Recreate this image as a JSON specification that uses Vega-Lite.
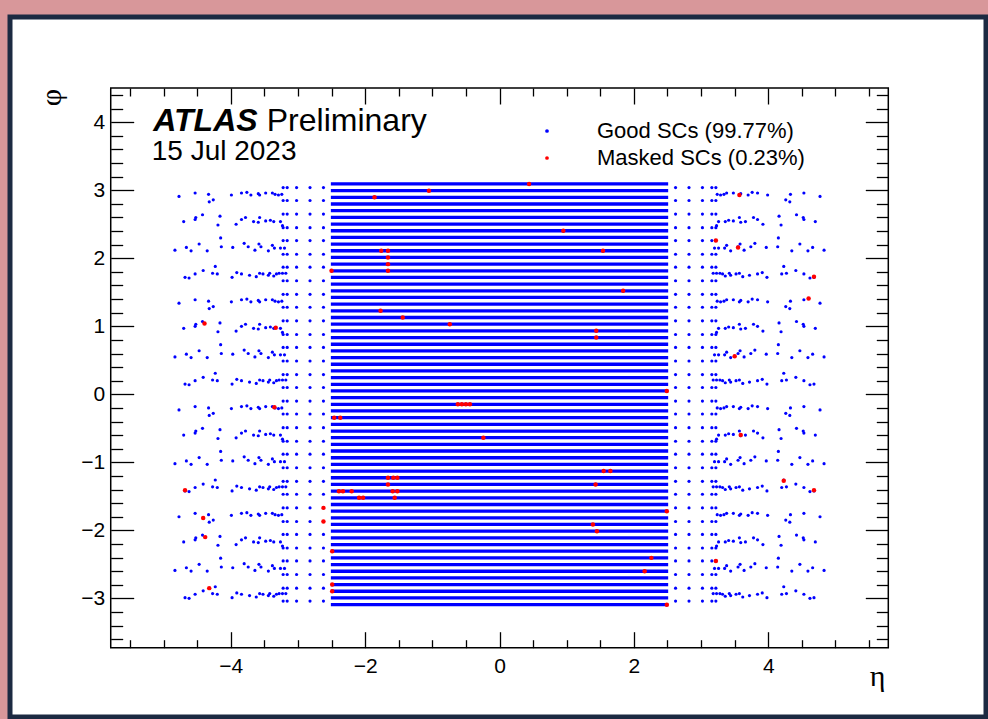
{
"$schema": "https://vega.github.io/schema/vega-lite/v6.json",
"width": 976, "height": 700,
"autosize": {"type": "none"},
"padding": {"left": 10, "top": 17, "right": 2, "bottom": 2},
"background": "#d8979a",
"config": {"view": {"fill": "white", "stroke": "#1c2a42", "strokeWidth": 5}, "font": "Liberation Sans"},
"datasets": {
"stripes": [{"phi":3.093},{"phi":2.994},{"phi":2.896},{"phi":2.798},{"phi":2.700},{"phi":2.602},{"phi":2.503},{"phi":2.405},{"phi":2.307},{"phi":2.209},{"phi":2.111},{"phi":2.013},{"phi":1.914},{"phi":1.816},{"phi":1.718},{"phi":1.620},{"phi":1.522},{"phi":1.424},{"phi":1.325},{"phi":1.227},{"phi":1.129},{"phi":1.031},{"phi":0.933},{"phi":0.834},{"phi":0.736},{"phi":0.638},{"phi":0.540},{"phi":0.442},{"phi":0.344},{"phi":0.245},{"phi":0.147},{"phi":0.049},
{"phi":-0.049},{"phi":-0.147},{"phi":-0.245},{"phi":-0.344},{"phi":-0.442},{"phi":-0.540},{"phi":-0.638},{"phi":-0.736},{"phi":-0.834},{"phi":-0.933},{"phi":-1.031},{"phi":-1.129},{"phi":-1.227},{"phi":-1.325},{"phi":-1.424},{"phi":-1.522},{"phi":-1.620},{"phi":-1.718},{"phi":-1.816},{"phi":-1.914},{"phi":-2.013},{"phi":-2.111},{"phi":-2.209},{"phi":-2.307},{"phi":-2.405},{"phi":-2.503},{"phi":-2.602},{"phi":-2.700},{"phi":-2.798},{"phi":-2.896},{"phi":-2.994},{"phi":-3.093}],
"good": [
{"eta":-3.22,"phi":3.04},{"eta":-3.16,"phi":3.04},{"eta":-3.02,"phi":3.04},{"eta":-2.82,"phi":3.04},{"eta":-2.62,"phi":3.04},{"eta":2.62,"phi":3.04},{"eta":2.82,"phi":3.04},{"eta":3.02,"phi":3.04},{"eta":3.16,"phi":3.04},{"eta":3.22,"phi":3.04},
{"eta":-3.22,"phi":2.85},{"eta":-3.16,"phi":2.85},{"eta":-3.02,"phi":2.85},{"eta":-2.82,"phi":2.85},{"eta":-2.62,"phi":2.85},{"eta":2.62,"phi":2.85},{"eta":2.82,"phi":2.85},{"eta":3.02,"phi":2.85},{"eta":3.16,"phi":2.85},{"eta":3.22,"phi":2.85},
{"eta":-3.22,"phi":2.65},{"eta":-3.16,"phi":2.65},{"eta":-3.02,"phi":2.65},{"eta":-2.82,"phi":2.65},{"eta":-2.62,"phi":2.65},{"eta":2.62,"phi":2.65},{"eta":2.82,"phi":2.65},{"eta":3.02,"phi":2.65},{"eta":3.16,"phi":2.65},{"eta":3.22,"phi":2.65},
{"eta":-3.22,"phi":2.45},{"eta":-3.16,"phi":2.45},{"eta":-3.02,"phi":2.45},{"eta":-2.82,"phi":2.45},{"eta":-2.62,"phi":2.45},{"eta":2.62,"phi":2.45},{"eta":2.82,"phi":2.45},{"eta":3.02,"phi":2.45},{"eta":3.16,"phi":2.45},{"eta":3.22,"phi":2.45},
{"eta":-3.22,"phi":2.26},{"eta":-3.16,"phi":2.26},{"eta":-3.02,"phi":2.26},{"eta":-2.82,"phi":2.26},{"eta":-2.62,"phi":2.26},{"eta":2.62,"phi":2.26},{"eta":2.82,"phi":2.26},{"eta":3.02,"phi":2.26},{"eta":3.16,"phi":2.26},{"eta":3.22,"phi":2.26},
{"eta":-3.22,"phi":2.06},{"eta":-3.16,"phi":2.06},{"eta":-3.02,"phi":2.06},{"eta":-2.82,"phi":2.06},{"eta":-2.62,"phi":2.06},{"eta":2.62,"phi":2.06},{"eta":2.82,"phi":2.06},{"eta":3.02,"phi":2.06},{"eta":3.16,"phi":2.06},{"eta":3.22,"phi":2.06},
{"eta":-3.22,"phi":1.87},{"eta":-3.16,"phi":1.87},{"eta":-3.02,"phi":1.87},{"eta":-2.82,"phi":1.87},{"eta":-2.62,"phi":1.87},{"eta":2.62,"phi":1.87},{"eta":2.82,"phi":1.87},{"eta":3.02,"phi":1.87},{"eta":3.16,"phi":1.87},{"eta":3.22,"phi":1.87},
{"eta":-3.22,"phi":1.67},{"eta":-3.16,"phi":1.67},{"eta":-3.02,"phi":1.67},{"eta":-2.82,"phi":1.67},{"eta":-2.62,"phi":1.67},{"eta":2.62,"phi":1.67},{"eta":2.82,"phi":1.67},{"eta":3.02,"phi":1.67},{"eta":3.16,"phi":1.67},{"eta":3.22,"phi":1.67},
{"eta":-3.22,"phi":1.47},{"eta":-3.16,"phi":1.47},{"eta":-3.02,"phi":1.47},{"eta":-2.82,"phi":1.47},{"eta":-2.62,"phi":1.47},{"eta":2.62,"phi":1.47},{"eta":2.82,"phi":1.47},{"eta":3.02,"phi":1.47},{"eta":3.16,"phi":1.47},{"eta":3.22,"phi":1.47},
{"eta":-3.22,"phi":1.28},{"eta":-3.16,"phi":1.28},{"eta":-3.02,"phi":1.28},{"eta":-2.82,"phi":1.28},{"eta":-2.62,"phi":1.28},{"eta":2.62,"phi":1.28},{"eta":2.82,"phi":1.28},{"eta":3.02,"phi":1.28},{"eta":3.16,"phi":1.28},{"eta":3.22,"phi":1.28},
{"eta":-3.22,"phi":1.08},{"eta":-3.16,"phi":1.08},{"eta":-3.02,"phi":1.08},{"eta":-2.82,"phi":1.08},{"eta":-2.62,"phi":1.08},{"eta":2.62,"phi":1.08},{"eta":2.82,"phi":1.08},{"eta":3.02,"phi":1.08},{"eta":3.16,"phi":1.08},{"eta":3.22,"phi":1.08},
{"eta":-3.22,"phi":0.88},{"eta":-3.16,"phi":0.88},{"eta":-3.02,"phi":0.88},{"eta":-2.82,"phi":0.88},{"eta":-2.62,"phi":0.88},{"eta":2.62,"phi":0.88},{"eta":2.82,"phi":0.88},{"eta":3.02,"phi":0.88},{"eta":3.16,"phi":0.88},{"eta":3.22,"phi":0.88},
{"eta":-3.22,"phi":0.69},{"eta":-3.16,"phi":0.69},{"eta":-3.02,"phi":0.69},{"eta":-2.82,"phi":0.69},{"eta":-2.62,"phi":0.69},{"eta":2.62,"phi":0.69},{"eta":2.82,"phi":0.69},{"eta":3.02,"phi":0.69},{"eta":3.16,"phi":0.69},{"eta":3.22,"phi":0.69},
{"eta":-3.22,"phi":0.49},{"eta":-3.16,"phi":0.49},{"eta":-3.02,"phi":0.49},{"eta":-2.82,"phi":0.49},{"eta":-2.62,"phi":0.49},{"eta":2.62,"phi":0.49},{"eta":2.82,"phi":0.49},{"eta":3.02,"phi":0.49},{"eta":3.16,"phi":0.49},{"eta":3.22,"phi":0.49},
{"eta":-3.22,"phi":0.29},{"eta":-3.16,"phi":0.29},{"eta":-3.02,"phi":0.29},{"eta":-2.82,"phi":0.29},{"eta":-2.62,"phi":0.29},{"eta":2.62,"phi":0.29},{"eta":2.82,"phi":0.29},{"eta":3.02,"phi":0.29},{"eta":3.16,"phi":0.29},{"eta":3.22,"phi":0.29},
{"eta":-3.22,"phi":0.10},{"eta":-3.16,"phi":0.10},{"eta":-3.02,"phi":0.10},{"eta":-2.82,"phi":0.10},{"eta":-2.62,"phi":0.10},{"eta":2.62,"phi":0.10},{"eta":2.82,"phi":0.10},{"eta":3.02,"phi":0.10},{"eta":3.16,"phi":0.10},{"eta":3.22,"phi":0.10},
{"eta":-3.22,"phi":-0.10},{"eta":-3.16,"phi":-0.10},{"eta":-3.02,"phi":-0.10},{"eta":-2.82,"phi":-0.10},{"eta":-2.62,"phi":-0.10},{"eta":2.62,"phi":-0.10},{"eta":2.82,"phi":-0.10},{"eta":3.02,"phi":-0.10},{"eta":3.16,"phi":-0.10},{"eta":3.22,"phi":-0.10},
{"eta":-3.22,"phi":-0.29},{"eta":-3.16,"phi":-0.29},{"eta":-3.02,"phi":-0.29},{"eta":-2.82,"phi":-0.29},{"eta":-2.62,"phi":-0.29},{"eta":2.62,"phi":-0.29},{"eta":2.82,"phi":-0.29},{"eta":3.02,"phi":-0.29},{"eta":3.16,"phi":-0.29},{"eta":3.22,"phi":-0.29},
{"eta":-3.22,"phi":-0.49},{"eta":-3.16,"phi":-0.49},{"eta":-3.02,"phi":-0.49},{"eta":-2.82,"phi":-0.49},{"eta":-2.62,"phi":-0.49},{"eta":2.62,"phi":-0.49},{"eta":2.82,"phi":-0.49},{"eta":3.02,"phi":-0.49},{"eta":3.16,"phi":-0.49},{"eta":3.22,"phi":-0.49},
{"eta":-3.22,"phi":-0.69},{"eta":-3.16,"phi":-0.69},{"eta":-3.02,"phi":-0.69},{"eta":-2.82,"phi":-0.69},{"eta":-2.62,"phi":-0.69},{"eta":2.62,"phi":-0.69},{"eta":2.82,"phi":-0.69},{"eta":3.02,"phi":-0.69},{"eta":3.16,"phi":-0.69},{"eta":3.22,"phi":-0.69},
{"eta":-3.22,"phi":-0.88},{"eta":-3.16,"phi":-0.88},{"eta":-3.02,"phi":-0.88},{"eta":-2.82,"phi":-0.88},{"eta":-2.62,"phi":-0.88},{"eta":2.62,"phi":-0.88},{"eta":2.82,"phi":-0.88},{"eta":3.02,"phi":-0.88},{"eta":3.16,"phi":-0.88},{"eta":3.22,"phi":-0.88},
{"eta":-3.22,"phi":-1.08},{"eta":-3.16,"phi":-1.08},{"eta":-3.02,"phi":-1.08},{"eta":-2.82,"phi":-1.08},{"eta":-2.62,"phi":-1.08},{"eta":2.62,"phi":-1.08},{"eta":2.82,"phi":-1.08},{"eta":3.02,"phi":-1.08},{"eta":3.16,"phi":-1.08},{"eta":3.22,"phi":-1.08},
{"eta":-3.22,"phi":-1.28},{"eta":-3.16,"phi":-1.28},{"eta":-3.02,"phi":-1.28},{"eta":-2.82,"phi":-1.28},{"eta":-2.62,"phi":-1.28},{"eta":2.62,"phi":-1.28},{"eta":2.82,"phi":-1.28},{"eta":3.02,"phi":-1.28},{"eta":3.16,"phi":-1.28},{"eta":3.22,"phi":-1.28},
{"eta":-3.22,"phi":-1.47},{"eta":-3.16,"phi":-1.47},{"eta":-3.02,"phi":-1.47},{"eta":-2.82,"phi":-1.47},{"eta":-2.62,"phi":-1.47},{"eta":2.62,"phi":-1.47},{"eta":2.82,"phi":-1.47},{"eta":3.02,"phi":-1.47},{"eta":3.16,"phi":-1.47},{"eta":3.22,"phi":-1.47},
{"eta":-3.22,"phi":-1.67},{"eta":-3.16,"phi":-1.67},{"eta":-3.02,"phi":-1.67},{"eta":-2.82,"phi":-1.67},{"eta":-2.62,"phi":-1.67},{"eta":2.62,"phi":-1.67},{"eta":2.82,"phi":-1.67},{"eta":3.02,"phi":-1.67},{"eta":3.16,"phi":-1.67},{"eta":3.22,"phi":-1.67},
{"eta":-3.22,"phi":-1.87},{"eta":-3.16,"phi":-1.87},{"eta":-3.02,"phi":-1.87},{"eta":-2.82,"phi":-1.87},{"eta":-2.62,"phi":-1.87},{"eta":2.62,"phi":-1.87},{"eta":2.82,"phi":-1.87},{"eta":3.02,"phi":-1.87},{"eta":3.16,"phi":-1.87},{"eta":3.22,"phi":-1.87},
{"eta":-3.22,"phi":-2.06},{"eta":-3.16,"phi":-2.06},{"eta":-3.02,"phi":-2.06},{"eta":-2.82,"phi":-2.06},{"eta":-2.62,"phi":-2.06},{"eta":2.62,"phi":-2.06},{"eta":2.82,"phi":-2.06},{"eta":3.02,"phi":-2.06},{"eta":3.16,"phi":-2.06},{"eta":3.22,"phi":-2.06},
{"eta":-3.22,"phi":-2.26},{"eta":-3.16,"phi":-2.26},{"eta":-3.02,"phi":-2.26},{"eta":-2.82,"phi":-2.26},{"eta":-2.62,"phi":-2.26},{"eta":2.62,"phi":-2.26},{"eta":2.82,"phi":-2.26},{"eta":3.02,"phi":-2.26},{"eta":3.16,"phi":-2.26},{"eta":3.22,"phi":-2.26},
{"eta":-3.22,"phi":-2.45},{"eta":-3.16,"phi":-2.45},{"eta":-3.02,"phi":-2.45},{"eta":-2.82,"phi":-2.45},{"eta":-2.62,"phi":-2.45},{"eta":2.62,"phi":-2.45},{"eta":2.82,"phi":-2.45},{"eta":3.02,"phi":-2.45},{"eta":3.16,"phi":-2.45},{"eta":3.22,"phi":-2.45},
{"eta":-3.22,"phi":-2.65},{"eta":-3.16,"phi":-2.65},{"eta":-3.02,"phi":-2.65},{"eta":-2.82,"phi":-2.65},{"eta":-2.62,"phi":-2.65},{"eta":2.62,"phi":-2.65},{"eta":2.82,"phi":-2.65},{"eta":3.02,"phi":-2.65},{"eta":3.16,"phi":-2.65},{"eta":3.22,"phi":-2.65},
{"eta":-3.22,"phi":-2.85},{"eta":-3.16,"phi":-2.85},{"eta":-3.02,"phi":-2.85},{"eta":-2.82,"phi":-2.85},{"eta":-2.62,"phi":-2.85},{"eta":2.62,"phi":-2.85},{"eta":2.82,"phi":-2.85},{"eta":3.02,"phi":-2.85},{"eta":3.16,"phi":-2.85},{"eta":3.22,"phi":-2.85},
{"eta":-3.22,"phi":-3.04},{"eta":-3.16,"phi":-3.04},{"eta":-3.02,"phi":-3.04},{"eta":-2.82,"phi":-3.04},{"eta":-2.62,"phi":-3.04},{"eta":2.62,"phi":-3.04},{"eta":2.82,"phi":-3.04},{"eta":3.02,"phi":-3.04},{"eta":3.16,"phi":-3.04},{"eta":3.22,"phi":-3.04},

{"eta":-4.77,"phi":2.91},{"eta":-4.53,"phi":2.96},{"eta":-4.33,"phi":2.94},{"eta":-4.32,"phi":2.83},{"eta":-4.26,"phi":2.86},{"eta":-3.99,"phi":2.93},{"eta":-3.84,"phi":2.96},{"eta":-3.76,"phi":2.97},{"eta":-3.70,"phi":2.93},{"eta":-3.59,"phi":2.95},{"eta":-3.57,"phi":2.93},{"eta":-3.48,"phi":2.96},{"eta":-3.38,"phi":2.96},{"eta":-3.34,"phi":2.94},{"eta":-3.29,"phi":2.93},{"eta":-3.24,"phi":2.94},
{"eta":-4.77,"phi":1.34},{"eta":-4.53,"phi":1.39},{"eta":-4.33,"phi":1.37},{"eta":-4.32,"phi":1.26},{"eta":-4.26,"phi":1.29},{"eta":-3.99,"phi":1.36},{"eta":-3.84,"phi":1.39},{"eta":-3.76,"phi":1.40},{"eta":-3.70,"phi":1.36},{"eta":-3.59,"phi":1.38},{"eta":-3.57,"phi":1.36},{"eta":-3.48,"phi":1.39},{"eta":-3.38,"phi":1.39},{"eta":-3.34,"phi":1.37},{"eta":-3.29,"phi":1.36},{"eta":-3.24,"phi":1.37},
{"eta":-4.77,"phi":-0.23},{"eta":-4.53,"phi":-0.18},{"eta":-4.33,"phi":-0.20},{"eta":-4.32,"phi":-0.31},{"eta":-4.26,"phi":-0.28},{"eta":-3.99,"phi":-0.21},{"eta":-3.84,"phi":-0.18},{"eta":-3.76,"phi":-0.17},{"eta":-3.70,"phi":-0.21},{"eta":-3.59,"phi":-0.19},{"eta":-3.57,"phi":-0.21},{"eta":-3.48,"phi":-0.18},{"eta":-3.38,"phi":-0.18},{"eta":-3.34,"phi":-0.20},{"eta":-3.29,"phi":-0.21},{"eta":-3.24,"phi":-0.20},
{"eta":-4.77,"phi":-1.80},{"eta":-4.53,"phi":-1.75},{"eta":-4.33,"phi":-1.77},{"eta":-4.32,"phi":-1.88},{"eta":-4.26,"phi":-1.85},{"eta":-3.99,"phi":-1.78},{"eta":-3.84,"phi":-1.75},{"eta":-3.76,"phi":-1.74},{"eta":-3.70,"phi":-1.78},{"eta":-3.59,"phi":-1.76},{"eta":-3.57,"phi":-1.78},{"eta":-3.48,"phi":-1.75},{"eta":-3.38,"phi":-1.75},{"eta":-3.34,"phi":-1.77},{"eta":-3.29,"phi":-1.78},{"eta":-3.24,"phi":-1.77},

{"eta":-4.70,"phi":2.54},{"eta":-4.53,"phi":2.57},{"eta":-4.52,"phi":2.60},{"eta":-4.42,"phi":2.64},{"eta":-4.19,"phi":2.49},{"eta":-4.16,"phi":2.62},{"eta":-3.92,"phi":2.50},{"eta":-3.84,"phi":2.57},{"eta":-3.78,"phi":2.60},{"eta":-3.66,"phi":2.54},{"eta":-3.59,"phi":2.53},{"eta":-3.57,"phi":2.60},{"eta":-3.48,"phi":2.55},{"eta":-3.41,"phi":2.56},{"eta":-3.36,"phi":2.54},{"eta":-3.26,"phi":2.54},{"eta":-3.23,"phi":2.48},
{"eta":-4.70,"phi":0.97},{"eta":-4.53,"phi":1.00},{"eta":-4.52,"phi":1.03},{"eta":-4.42,"phi":1.07},{"eta":-4.19,"phi":0.92},{"eta":-4.16,"phi":1.05},{"eta":-3.92,"phi":0.93},{"eta":-3.84,"phi":1.00},{"eta":-3.78,"phi":1.03},{"eta":-3.66,"phi":0.97},{"eta":-3.59,"phi":0.96},{"eta":-3.57,"phi":1.03},{"eta":-3.48,"phi":0.98},{"eta":-3.41,"phi":0.99},{"eta":-3.36,"phi":0.97},{"eta":-3.26,"phi":0.97},{"eta":-3.23,"phi":0.91},
{"eta":-4.70,"phi":-0.60},{"eta":-4.53,"phi":-0.57},{"eta":-4.52,"phi":-0.54},{"eta":-4.42,"phi":-0.50},{"eta":-4.19,"phi":-0.65},{"eta":-4.16,"phi":-0.52},{"eta":-3.92,"phi":-0.64},{"eta":-3.84,"phi":-0.57},{"eta":-3.78,"phi":-0.54},{"eta":-3.66,"phi":-0.60},{"eta":-3.59,"phi":-0.61},{"eta":-3.57,"phi":-0.54},{"eta":-3.48,"phi":-0.59},{"eta":-3.41,"phi":-0.58},{"eta":-3.36,"phi":-0.60},{"eta":-3.26,"phi":-0.60},{"eta":-3.23,"phi":-0.66},
{"eta":-4.70,"phi":-2.17},{"eta":-4.53,"phi":-2.14},{"eta":-4.52,"phi":-2.11},{"eta":-4.42,"phi":-2.07},{"eta":-4.19,"phi":-2.22},{"eta":-4.16,"phi":-2.09},{"eta":-3.92,"phi":-2.21},{"eta":-3.84,"phi":-2.14},{"eta":-3.78,"phi":-2.11},{"eta":-3.66,"phi":-2.17},{"eta":-3.59,"phi":-2.18},{"eta":-3.57,"phi":-2.11},{"eta":-3.48,"phi":-2.16},{"eta":-3.41,"phi":-2.15},{"eta":-3.36,"phi":-2.17},{"eta":-3.26,"phi":-2.17},{"eta":-3.23,"phi":-2.23},

{"eta":-4.83,"phi":2.12},{"eta":-4.66,"phi":2.16},{"eta":-4.59,"phi":2.11},{"eta":-4.47,"phi":2.21},{"eta":-4.35,"phi":2.11},{"eta":-4.15,"phi":2.30},{"eta":-4.14,"phi":2.17},{"eta":-3.97,"phi":2.16},{"eta":-3.80,"phi":2.22},{"eta":-3.74,"phi":2.17},{"eta":-3.64,"phi":2.12},{"eta":-3.58,"phi":2.21},{"eta":-3.55,"phi":2.17},{"eta":-3.44,"phi":2.11},{"eta":-3.38,"phi":2.19},{"eta":-3.35,"phi":2.15},{"eta":-3.26,"phi":2.15},{"eta":-3.20,"phi":2.15},
{"eta":-4.83,"phi":0.55},{"eta":-4.66,"phi":0.59},{"eta":-4.59,"phi":0.54},{"eta":-4.47,"phi":0.64},{"eta":-4.35,"phi":0.54},{"eta":-4.15,"phi":0.73},{"eta":-4.14,"phi":0.60},{"eta":-3.97,"phi":0.59},{"eta":-3.80,"phi":0.65},{"eta":-3.74,"phi":0.60},{"eta":-3.64,"phi":0.55},{"eta":-3.58,"phi":0.64},{"eta":-3.55,"phi":0.60},{"eta":-3.44,"phi":0.54},{"eta":-3.38,"phi":0.62},{"eta":-3.35,"phi":0.58},{"eta":-3.26,"phi":0.58},{"eta":-3.20,"phi":0.58},
{"eta":-4.83,"phi":-1.02},{"eta":-4.66,"phi":-0.98},{"eta":-4.59,"phi":-1.03},{"eta":-4.47,"phi":-0.93},{"eta":-4.35,"phi":-1.03},{"eta":-4.15,"phi":-0.84},{"eta":-4.14,"phi":-0.97},{"eta":-3.97,"phi":-0.98},{"eta":-3.80,"phi":-0.92},{"eta":-3.74,"phi":-0.97},{"eta":-3.64,"phi":-1.02},{"eta":-3.58,"phi":-0.93},{"eta":-3.55,"phi":-0.97},{"eta":-3.44,"phi":-1.03},{"eta":-3.38,"phi":-0.95},{"eta":-3.35,"phi":-0.99},{"eta":-3.26,"phi":-0.99},{"eta":-3.20,"phi":-0.99},
{"eta":-4.83,"phi":-2.59},{"eta":-4.66,"phi":-2.55},{"eta":-4.59,"phi":-2.60},{"eta":-4.47,"phi":-2.50},{"eta":-4.35,"phi":-2.60},{"eta":-4.15,"phi":-2.41},{"eta":-4.14,"phi":-2.54},{"eta":-3.97,"phi":-2.55},{"eta":-3.80,"phi":-2.49},{"eta":-3.74,"phi":-2.54},{"eta":-3.64,"phi":-2.59},{"eta":-3.58,"phi":-2.50},{"eta":-3.55,"phi":-2.54},{"eta":-3.44,"phi":-2.60},{"eta":-3.38,"phi":-2.52},{"eta":-3.35,"phi":-2.56},{"eta":-3.26,"phi":-2.56},{"eta":-3.20,"phi":-2.56},

{"eta":-4.68,"phi":1.72},{"eta":-4.62,"phi":1.71},{"eta":-4.53,"phi":1.77},{"eta":-4.41,"phi":1.82},{"eta":-4.27,"phi":1.78},{"eta":-4.23,"phi":1.88},{"eta":-4.20,"phi":1.77},{"eta":-3.98,"phi":1.72},{"eta":-3.91,"phi":1.79},{"eta":-3.84,"phi":1.77},{"eta":-3.72,"phi":1.75},{"eta":-3.62,"phi":1.73},{"eta":-3.57,"phi":1.78},{"eta":-3.52,"phi":1.77},{"eta":-3.44,"phi":1.75},{"eta":-3.42,"phi":1.78},{"eta":-3.36,"phi":1.74},{"eta":-3.32,"phi":1.77},{"eta":-3.28,"phi":1.78},{"eta":-3.23,"phi":1.78},{"eta":-3.18,"phi":1.78},
{"eta":-4.68,"phi":0.15},{"eta":-4.62,"phi":0.14},{"eta":-4.53,"phi":0.20},{"eta":-4.41,"phi":0.25},{"eta":-4.27,"phi":0.21},{"eta":-4.23,"phi":0.31},{"eta":-4.20,"phi":0.20},{"eta":-3.98,"phi":0.15},{"eta":-3.91,"phi":0.22},{"eta":-3.84,"phi":0.20},{"eta":-3.72,"phi":0.18},{"eta":-3.62,"phi":0.16},{"eta":-3.57,"phi":0.21},{"eta":-3.52,"phi":0.20},{"eta":-3.44,"phi":0.18},{"eta":-3.42,"phi":0.21},{"eta":-3.36,"phi":0.17},{"eta":-3.32,"phi":0.20},{"eta":-3.28,"phi":0.21},{"eta":-3.23,"phi":0.21},{"eta":-3.18,"phi":0.21},
{"eta":-4.68,"phi":-1.42},{"eta":-4.62,"phi":-1.43},{"eta":-4.53,"phi":-1.37},{"eta":-4.41,"phi":-1.32},{"eta":-4.27,"phi":-1.36},{"eta":-4.23,"phi":-1.26},{"eta":-4.20,"phi":-1.37},{"eta":-3.98,"phi":-1.42},{"eta":-3.91,"phi":-1.35},{"eta":-3.84,"phi":-1.37},{"eta":-3.72,"phi":-1.39},{"eta":-3.62,"phi":-1.41},{"eta":-3.57,"phi":-1.36},{"eta":-3.52,"phi":-1.37},{"eta":-3.44,"phi":-1.39},{"eta":-3.42,"phi":-1.36},{"eta":-3.36,"phi":-1.40},{"eta":-3.32,"phi":-1.37},{"eta":-3.28,"phi":-1.36},{"eta":-3.23,"phi":-1.36},{"eta":-3.18,"phi":-1.36},
{"eta":-4.68,"phi":-2.99},{"eta":-4.62,"phi":-3.00},{"eta":-4.53,"phi":-2.94},{"eta":-4.41,"phi":-2.89},{"eta":-4.27,"phi":-2.93},{"eta":-4.23,"phi":-2.83},{"eta":-4.20,"phi":-2.94},{"eta":-3.98,"phi":-2.99},{"eta":-3.91,"phi":-2.92},{"eta":-3.84,"phi":-2.94},{"eta":-3.72,"phi":-2.96},{"eta":-3.62,"phi":-2.98},{"eta":-3.57,"phi":-2.93},{"eta":-3.52,"phi":-2.94},{"eta":-3.44,"phi":-2.96},{"eta":-3.42,"phi":-2.93},{"eta":-3.36,"phi":-2.97},{"eta":-3.32,"phi":-2.94},{"eta":-3.28,"phi":-2.93},{"eta":-3.23,"phi":-2.93},{"eta":-3.18,"phi":-2.93},

{"eta":4.77,"phi":2.91},{"eta":4.53,"phi":2.96},{"eta":4.33,"phi":2.94},{"eta":4.32,"phi":2.83},{"eta":4.26,"phi":2.86},{"eta":3.99,"phi":2.93},{"eta":3.84,"phi":2.96},{"eta":3.76,"phi":2.97},{"eta":3.70,"phi":2.93},{"eta":3.59,"phi":2.95},{"eta":3.57,"phi":2.93},{"eta":3.48,"phi":2.96},{"eta":3.38,"phi":2.96},{"eta":3.34,"phi":2.94},{"eta":3.29,"phi":2.93},{"eta":3.24,"phi":2.94},
{"eta":4.77,"phi":1.34},{"eta":4.53,"phi":1.39},{"eta":4.33,"phi":1.37},{"eta":4.32,"phi":1.26},{"eta":4.26,"phi":1.29},{"eta":3.99,"phi":1.36},{"eta":3.84,"phi":1.39},{"eta":3.76,"phi":1.40},{"eta":3.70,"phi":1.36},{"eta":3.59,"phi":1.38},{"eta":3.57,"phi":1.36},{"eta":3.48,"phi":1.39},{"eta":3.38,"phi":1.39},{"eta":3.34,"phi":1.37},{"eta":3.29,"phi":1.36},{"eta":3.24,"phi":1.37},
{"eta":4.77,"phi":-0.23},{"eta":4.53,"phi":-0.18},{"eta":4.33,"phi":-0.20},{"eta":4.32,"phi":-0.31},{"eta":4.26,"phi":-0.28},{"eta":3.99,"phi":-0.21},{"eta":3.84,"phi":-0.18},{"eta":3.76,"phi":-0.17},{"eta":3.70,"phi":-0.21},{"eta":3.59,"phi":-0.19},{"eta":3.57,"phi":-0.21},{"eta":3.48,"phi":-0.18},{"eta":3.38,"phi":-0.18},{"eta":3.34,"phi":-0.20},{"eta":3.29,"phi":-0.21},{"eta":3.24,"phi":-0.20},
{"eta":4.77,"phi":-1.80},{"eta":4.53,"phi":-1.75},{"eta":4.33,"phi":-1.77},{"eta":4.32,"phi":-1.88},{"eta":4.26,"phi":-1.85},{"eta":3.99,"phi":-1.78},{"eta":3.84,"phi":-1.75},{"eta":3.76,"phi":-1.74},{"eta":3.70,"phi":-1.78},{"eta":3.59,"phi":-1.76},{"eta":3.57,"phi":-1.78},{"eta":3.48,"phi":-1.75},{"eta":3.38,"phi":-1.75},{"eta":3.34,"phi":-1.77},{"eta":3.29,"phi":-1.78},{"eta":3.24,"phi":-1.77},

{"eta":4.70,"phi":2.54},{"eta":4.53,"phi":2.57},{"eta":4.52,"phi":2.60},{"eta":4.42,"phi":2.64},{"eta":4.19,"phi":2.49},{"eta":4.16,"phi":2.62},{"eta":3.92,"phi":2.50},{"eta":3.84,"phi":2.57},{"eta":3.78,"phi":2.60},{"eta":3.66,"phi":2.54},{"eta":3.59,"phi":2.53},{"eta":3.57,"phi":2.60},{"eta":3.48,"phi":2.55},{"eta":3.41,"phi":2.56},{"eta":3.36,"phi":2.54},{"eta":3.26,"phi":2.54},{"eta":3.23,"phi":2.48},
{"eta":4.70,"phi":0.97},{"eta":4.53,"phi":1.00},{"eta":4.52,"phi":1.03},{"eta":4.42,"phi":1.07},{"eta":4.19,"phi":0.92},{"eta":4.16,"phi":1.05},{"eta":3.92,"phi":0.93},{"eta":3.84,"phi":1.00},{"eta":3.78,"phi":1.03},{"eta":3.66,"phi":0.97},{"eta":3.59,"phi":0.96},{"eta":3.57,"phi":1.03},{"eta":3.48,"phi":0.98},{"eta":3.41,"phi":0.99},{"eta":3.36,"phi":0.97},{"eta":3.26,"phi":0.97},{"eta":3.23,"phi":0.91},
{"eta":4.70,"phi":-0.60},{"eta":4.53,"phi":-0.57},{"eta":4.52,"phi":-0.54},{"eta":4.42,"phi":-0.50},{"eta":4.19,"phi":-0.65},{"eta":4.16,"phi":-0.52},{"eta":3.92,"phi":-0.64},{"eta":3.84,"phi":-0.57},{"eta":3.78,"phi":-0.54},{"eta":3.66,"phi":-0.60},{"eta":3.59,"phi":-0.61},{"eta":3.57,"phi":-0.54},{"eta":3.48,"phi":-0.59},{"eta":3.41,"phi":-0.58},{"eta":3.36,"phi":-0.60},{"eta":3.26,"phi":-0.60},{"eta":3.23,"phi":-0.66},
{"eta":4.70,"phi":-2.17},{"eta":4.53,"phi":-2.14},{"eta":4.52,"phi":-2.11},{"eta":4.42,"phi":-2.07},{"eta":4.19,"phi":-2.22},{"eta":4.16,"phi":-2.09},{"eta":3.92,"phi":-2.21},{"eta":3.84,"phi":-2.14},{"eta":3.78,"phi":-2.11},{"eta":3.66,"phi":-2.17},{"eta":3.59,"phi":-2.18},{"eta":3.57,"phi":-2.11},{"eta":3.48,"phi":-2.16},{"eta":3.41,"phi":-2.15},{"eta":3.36,"phi":-2.17},{"eta":3.26,"phi":-2.17},{"eta":3.23,"phi":-2.23},

{"eta":4.83,"phi":2.12},{"eta":4.66,"phi":2.16},{"eta":4.59,"phi":2.11},{"eta":4.47,"phi":2.21},{"eta":4.35,"phi":2.11},{"eta":4.15,"phi":2.30},{"eta":4.14,"phi":2.17},{"eta":3.97,"phi":2.16},{"eta":3.80,"phi":2.22},{"eta":3.74,"phi":2.17},{"eta":3.64,"phi":2.12},{"eta":3.58,"phi":2.21},{"eta":3.55,"phi":2.17},{"eta":3.44,"phi":2.11},{"eta":3.38,"phi":2.19},{"eta":3.35,"phi":2.15},{"eta":3.26,"phi":2.15},{"eta":3.20,"phi":2.15},
{"eta":4.83,"phi":0.55},{"eta":4.66,"phi":0.59},{"eta":4.59,"phi":0.54},{"eta":4.47,"phi":0.64},{"eta":4.35,"phi":0.54},{"eta":4.15,"phi":0.73},{"eta":4.14,"phi":0.60},{"eta":3.97,"phi":0.59},{"eta":3.80,"phi":0.65},{"eta":3.74,"phi":0.60},{"eta":3.64,"phi":0.55},{"eta":3.58,"phi":0.64},{"eta":3.55,"phi":0.60},{"eta":3.44,"phi":0.54},{"eta":3.38,"phi":0.62},{"eta":3.35,"phi":0.58},{"eta":3.26,"phi":0.58},{"eta":3.20,"phi":0.58},
{"eta":4.83,"phi":-1.02},{"eta":4.66,"phi":-0.98},{"eta":4.59,"phi":-1.03},{"eta":4.47,"phi":-0.93},{"eta":4.35,"phi":-1.03},{"eta":4.15,"phi":-0.84},{"eta":4.14,"phi":-0.97},{"eta":3.97,"phi":-0.98},{"eta":3.80,"phi":-0.92},{"eta":3.74,"phi":-0.97},{"eta":3.64,"phi":-1.02},{"eta":3.58,"phi":-0.93},{"eta":3.55,"phi":-0.97},{"eta":3.44,"phi":-1.03},{"eta":3.38,"phi":-0.95},{"eta":3.35,"phi":-0.99},{"eta":3.26,"phi":-0.99},{"eta":3.20,"phi":-0.99},
{"eta":4.83,"phi":-2.59},{"eta":4.66,"phi":-2.55},{"eta":4.59,"phi":-2.60},{"eta":4.47,"phi":-2.50},{"eta":4.35,"phi":-2.60},{"eta":4.15,"phi":-2.41},{"eta":4.14,"phi":-2.54},{"eta":3.97,"phi":-2.55},{"eta":3.80,"phi":-2.49},{"eta":3.74,"phi":-2.54},{"eta":3.64,"phi":-2.59},{"eta":3.58,"phi":-2.50},{"eta":3.55,"phi":-2.54},{"eta":3.44,"phi":-2.60},{"eta":3.38,"phi":-2.52},{"eta":3.35,"phi":-2.56},{"eta":3.26,"phi":-2.56},{"eta":3.20,"phi":-2.56},

{"eta":4.68,"phi":1.72},{"eta":4.62,"phi":1.71},{"eta":4.53,"phi":1.77},{"eta":4.41,"phi":1.82},{"eta":4.27,"phi":1.78},{"eta":4.23,"phi":1.88},{"eta":4.20,"phi":1.77},{"eta":3.98,"phi":1.72},{"eta":3.91,"phi":1.79},{"eta":3.84,"phi":1.77},{"eta":3.72,"phi":1.75},{"eta":3.62,"phi":1.73},{"eta":3.57,"phi":1.78},{"eta":3.52,"phi":1.77},{"eta":3.44,"phi":1.75},{"eta":3.42,"phi":1.78},{"eta":3.36,"phi":1.74},{"eta":3.32,"phi":1.77},{"eta":3.28,"phi":1.78},{"eta":3.23,"phi":1.78},{"eta":3.18,"phi":1.78},
{"eta":4.68,"phi":0.15},{"eta":4.62,"phi":0.14},{"eta":4.53,"phi":0.20},{"eta":4.41,"phi":0.25},{"eta":4.27,"phi":0.21},{"eta":4.23,"phi":0.31},{"eta":4.20,"phi":0.20},{"eta":3.98,"phi":0.15},{"eta":3.91,"phi":0.22},{"eta":3.84,"phi":0.20},{"eta":3.72,"phi":0.18},{"eta":3.62,"phi":0.16},{"eta":3.57,"phi":0.21},{"eta":3.52,"phi":0.20},{"eta":3.44,"phi":0.18},{"eta":3.42,"phi":0.21},{"eta":3.36,"phi":0.17},{"eta":3.32,"phi":0.20},{"eta":3.28,"phi":0.21},{"eta":3.23,"phi":0.21},{"eta":3.18,"phi":0.21},
{"eta":4.68,"phi":-1.42},{"eta":4.62,"phi":-1.43},{"eta":4.53,"phi":-1.37},{"eta":4.41,"phi":-1.32},{"eta":4.27,"phi":-1.36},{"eta":4.23,"phi":-1.26},{"eta":4.20,"phi":-1.37},{"eta":3.98,"phi":-1.42},{"eta":3.91,"phi":-1.35},{"eta":3.84,"phi":-1.37},{"eta":3.72,"phi":-1.39},{"eta":3.62,"phi":-1.41},{"eta":3.57,"phi":-1.36},{"eta":3.52,"phi":-1.37},{"eta":3.44,"phi":-1.39},{"eta":3.42,"phi":-1.36},{"eta":3.36,"phi":-1.40},{"eta":3.32,"phi":-1.37},{"eta":3.28,"phi":-1.36},{"eta":3.23,"phi":-1.36},{"eta":3.18,"phi":-1.36},
{"eta":4.68,"phi":-2.99},{"eta":4.62,"phi":-3.00},{"eta":4.53,"phi":-2.94},{"eta":4.41,"phi":-2.89},{"eta":4.27,"phi":-2.93},{"eta":4.23,"phi":-2.83},{"eta":4.20,"phi":-2.94},{"eta":3.98,"phi":-2.99},{"eta":3.91,"phi":-2.92},{"eta":3.84,"phi":-2.94},{"eta":3.72,"phi":-2.96},{"eta":3.62,"phi":-2.98},{"eta":3.57,"phi":-2.93},{"eta":3.52,"phi":-2.94},{"eta":3.44,"phi":-2.96},{"eta":3.42,"phi":-2.93},{"eta":3.36,"phi":-2.97},{"eta":3.32,"phi":-2.94},{"eta":3.28,"phi":-2.93},{"eta":3.23,"phi":-2.93},{"eta":3.18,"phi":-2.93}
],
"masked": [
{"eta":-1.86,"phi":2.896},{"eta":-1.05,"phi":2.994},{"eta":0.44,"phi":3.093},{"eta":0.95,"phi":2.405},{"eta":1.54,"phi":2.111},{"eta":1.84,"phi":1.522},
{"eta":-1.76,"phi":2.111},{"eta":-1.66,"phi":2.111},{"eta":-1.66,"phi":2.013},{"eta":-1.66,"phi":1.914},{"eta":-1.66,"phi":1.816},{"eta":-2.5,"phi":1.816},
{"eta":-1.77,"phi":1.227},{"eta":-1.44,"phi":1.129},{"eta":-0.74,"phi":1.031},{"eta":1.44,"phi":0.933},{"eta":1.44,"phi":0.834},
{"eta":3.57,"phi":2.93},{"eta":3.22,"phi":2.26},{"eta":3.55,"phi":2.16},{"eta":4.68,"phi":1.73},{"eta":4.6,"phi":1.41},
{"eta":-4.39,"phi":1.04},{"eta":-3.33,"phi":0.98},{"eta":3.5,"phi":0.56},{"eta":2.49,"phi":0.049},
{"eta":-0.62,"phi":-0.147},{"eta":-0.56,"phi":-0.147},{"eta":-0.5,"phi":-0.147},{"eta":-0.44,"phi":-0.147},{"eta":-0.24,"phi":-0.638},
{"eta":-2.46,"phi":-0.344},{"eta":-2.37,"phi":-0.344},{"eta":-3.35,"phi":-0.19},{"eta":3.59,"phi":-0.6},
{"eta":1.55,"phi":-1.129},{"eta":1.65,"phi":-1.129},{"eta":1.43,"phi":-1.325},{"eta":2.49,"phi":-1.718},{"eta":1.39,"phi":-1.914},{"eta":1.45,"phi":-2.013},{"eta":2.26,"phi":-2.405},{"eta":2.16,"phi":-2.602},{"eta":2.49,"phi":-3.093},
{"eta":-1.66,"phi":-1.227},{"eta":-1.58,"phi":-1.227},{"eta":-1.52,"phi":-1.227},{"eta":-1.66,"phi":-1.325},{"eta":-2.39,"phi":-1.424},{"eta":-2.33,"phi":-1.424},{"eta":-2.2,"phi":-1.424},{"eta":-1.59,"phi":-1.424},{"eta":-1.52,"phi":-1.424},{"eta":-2.09,"phi":-1.522},{"eta":-2.03,"phi":-1.522},{"eta":-1.56,"phi":-1.522},
{"eta":-2.62,"phi":-1.67},{"eta":-2.62,"phi":-1.87},{"eta":-2.49,"phi":-2.307},{"eta":-2.49,"phi":-2.798},{"eta":-2.49,"phi":-2.896},
{"eta":-4.68,"phi":-1.41},{"eta":-4.41,"phi":-1.82},{"eta":-4.38,"phi":-2.1},{"eta":-4.32,"phi":-2.85},
{"eta":3.22,"phi":-2.45},{"eta":4.23,"phi":-1.27},{"eta":4.68,"phi":-1.41}
]
},
"resolve": {"axis": {"x": "independent", "y": "independent"}},
"layer": [
{
"data": {"name": "stripes"},
"mark": {"type": "rule", "color": "#0000ff", "strokeWidth": 3.3, "strokeCap": "butt"},
"encoding": {
"y": {"field": "phi", "type": "quantitative", "scale": {"domain": [-4.745, 5.548], "nice": false, "zero": false},
 "axis": {"orient": "right", "offset": -97.7, "domain": false, "grid": false, "labels": false, "title": null, "tickCount": 200, "tickMinStep": 0.1,
  "values": [-3.6,-3.4,-3.2,-3,-2.8,-2.6,-2.4,-2.2,-2,-1.8,-1.6,-1.4,-1.2,-1,-0.8,-0.6,-0.4,-0.2,0,0.2,0.4,0.6,0.8,1,1.2,1.4,1.6,1.8,2,2.2,2.4,2.6,2.8,3,3.2,3.4,3.6,3.8,4,4.2,4.4],
  "tickColor": "black", "tickWidth": 1.3,
  "tickSize": {"condition": {"test": "abs(datum.value - round(datum.value)) < 0.01", "value": -23}, "value": -12}}},
"x": {"datum": -2.51, "type": "quantitative", "scale": {"domain": [-7.285, 7.24], "nice": false, "zero": false},
 "axis": {"orient": "top", "offset": -71, "domain": false, "grid": false, "labels": false, "title": null, "tickCount": 200, "tickMinStep": 0.1,
  "values": [-5.5,-5,-4.5,-4,-3.5,-3,-2.5,-2,-1.5,-1,-0.5,0,0.5,1,1.5,2,2.5,3,3.5,4,4.5,5,5.5],
  "tickColor": "black", "tickWidth": 1.3,
  "tickSize": {"condition": {"test": "abs(datum.value % 2) < 0.01", "value": -16}, "value": -8}}},
"x2": {"datum": 2.51}
}
},
{
"data": {"name": "good"},
"mark": {"type": "point", "filled": true, "shape": "circle", "size": 10, "opacity": 1, "strokeWidth": 0},
"encoding": {
"x": {"field": "eta", "type": "quantitative", "scale": {"domain": [-7.285, 7.24], "nice": false, "zero": false},
 "axis": {"orient": "bottom", "offset": -69.3, "domain": false, "grid": false, "tickCount": 200, "tickMinStep": 0.1,
  "values": [-5.5,-5,-4.5,-4,-3.5,-3,-2.5,-2,-1.5,-1,-0.5,0,0.5,1,1.5,2,2.5,3,3.5,4,4.5,5,5.5],
  "labelExpr": "abs(datum.value % 2) < 0.01 ? format(datum.value, 'd') : ''",
  "labelFont": "Liberation Sans", "labelFontSize": 21, "labelColor": "black", "labelPadding": 24, "labelFlush": false, "labelOverlap": false,
  "tickColor": "black", "tickWidth": 1.3,
  "tickSize": {"condition": {"test": "abs(datum.value % 2) < 0.01", "value": -16}, "value": -8},
  "title": "η", "titleFont": "Liberation Serif", "titleFontSize": 30, "titleFontWeight": "normal", "titleColor": "black",
  "titleAnchor": "start", "titleAlign": "center", "titleBaseline": "alphabetic", "titleX": 867, "titleY": 38}},
"y": {"field": "phi", "type": "quantitative", "scale": {"domain": [-4.745, 5.548], "nice": false, "zero": false},
 "axis": {"orient": "left", "offset": -100.7, "domain": false, "grid": false, "tickCount": 200, "tickMinStep": 0.1,
  "values": [-3.6,-3.4,-3.2,-3,-2.8,-2.6,-2.4,-2.2,-2,-1.8,-1.6,-1.4,-1.2,-1,-0.8,-0.6,-0.4,-0.2,0,0.2,0.4,0.6,0.8,1,1.2,1.4,1.6,1.8,2,2.2,2.4,2.6,2.8,3,3.2,3.4,3.6,3.8,4,4.2,4.4],
  "labelExpr": "abs(datum.value - round(datum.value)) < 0.01 ? format(datum.value, 'd') : ''",
  "labelFont": "Liberation Sans", "labelFontSize": 21, "labelColor": "black", "labelPadding": 29, "labelOverlap": false, "labelFlush": false,
  "tickColor": "black", "tickWidth": 1.3,
  "tickSize": {"condition": {"test": "abs(datum.value - round(datum.value)) < 0.01", "value": -23}, "value": -12},
  "title": "φ", "titleFont": "Liberation Serif", "titleFontSize": 30, "titleFontWeight": "normal", "titleColor": "black",
  "titleAngle": 270, "titleAnchor": "start", "titleAlign": "center", "titleBaseline": "middle", "titleX": -59, "titleY": 80}},
"color": {"datum": "Good SCs (99.77%)", "type": "nominal",
 "scale": {"domain": ["Good SCs (99.77%)", "Masked SCs (0.23%)"], "range": ["#0000ff", "#ff0000"]},
 "legend": {"orient": "none", "legendX": 526, "legendY": 103, "title": null, "labelFont": "Liberation Sans", "labelFontSize": 22, "labelColor": "black", "labelLimit": 0, "symbolType": "circle", "symbolSize": 14, "symbolStrokeWidth": 0, "labelOffset": 39, "rowPadding": 5}}
}
},
{
"data": {"name": "masked"},
"mark": {"type": "point", "filled": true, "shape": "circle", "size": 20, "opacity": 1, "strokeWidth": 0},
"encoding": {
"x": {"field": "eta", "type": "quantitative", "scale": {"domain": [-7.285, 7.24], "nice": false, "zero": false}, "axis": null},
"y": {"field": "phi", "type": "quantitative", "scale": {"domain": [-4.745, 5.548], "nice": false, "zero": false}, "axis": null},
"color": {"datum": "Masked SCs (0.23%)", "type": "nominal"}
}
},
{
"data": {"values": [{}]},
"mark": {"type": "rect", "fillOpacity": 0, "stroke": "black", "strokeWidth": 1.5},
"encoding": {
"x": {"datum": -5.786, "type": "quantitative", "scale": {"domain": [-7.285, 7.24], "nice": false, "zero": false}, "axis": null},
"x2": {"datum": 5.786},
"y": {"datum": -3.726, "type": "quantitative", "scale": {"domain": [-4.745, 5.548], "nice": false, "zero": false}, "axis": null},
"y2": {"datum": 4.504}
}
},
{
"data": {"values": [{}]},
"mark": {"type": "text", "text": "ATLAS", "font": "Liberation Sans", "fontSize": 32, "fontStyle": "italic", "fontWeight": "bold", "align": "left", "baseline": "alphabetic", "color": "black"},
"encoding": {
"x": {"datum": -5.152, "type": "quantitative", "scale": {"domain": [-7.285, 7.24], "nice": false, "zero": false}, "axis": null},
"y": {"datum": 3.876, "type": "quantitative", "scale": {"domain": [-4.745, 5.548], "nice": false, "zero": false}, "axis": null}
}
},
{
"data": {"values": [{}]},
"mark": {"type": "text", "text": "Preliminary", "font": "Liberation Sans", "fontSize": 32, "align": "left", "baseline": "alphabetic", "color": "black"},
"encoding": {
"x": {"datum": -3.464, "type": "quantitative", "scale": {"domain": [-7.285, 7.24], "nice": false, "zero": false}, "axis": null},
"y": {"datum": 3.876, "type": "quantitative", "scale": {"domain": [-4.745, 5.548], "nice": false, "zero": false}, "axis": null}
}
},
{
"data": {"values": [{}]},
"mark": {"type": "text", "text": "15 Jul 2023", "font": "Liberation Sans", "fontSize": 28, "align": "left", "baseline": "alphabetic", "color": "black"},
"encoding": {
"x": {"datum": -5.176, "type": "quantitative", "scale": {"domain": [-7.285, 7.24], "nice": false, "zero": false}, "axis": null},
"y": {"datum": 3.44, "type": "quantitative", "scale": {"domain": [-4.745, 5.548], "nice": false, "zero": false}, "axis": null}
}
}
]
}
